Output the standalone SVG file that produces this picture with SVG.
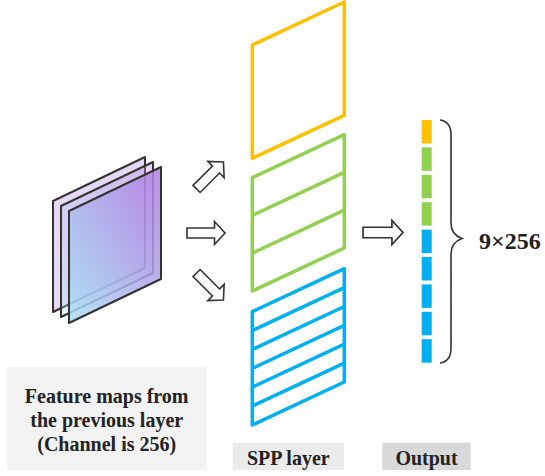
<svg xmlns="http://www.w3.org/2000/svg" width="545" height="476" viewBox="0 0 545 476">
<defs>
<linearGradient id="fmGrad" x1="0" y1="1" x2="1" y2="0">
<stop offset="0" stop-color="#a8e0f4"/>
<stop offset="1" stop-color="#b37ce0"/>
</linearGradient>
<path id="arrow" d="M-19,-5 L8.5,-5 L8.5,-11.5 L19,0 L8.5,11.5 L8.5,5 L-19,5 Z"/>
</defs>
<style>
.fm{stroke:#333;stroke-width:2;stroke-linejoin:round}
.arr{fill:#fff;stroke:#333;stroke-width:1.6;stroke-linejoin:miter}
.spp{fill:none;stroke-width:3.5;stroke-linejoin:round;stroke-linecap:round}
.lbl{font-family:"Liberation Serif","Times New Roman",serif;font-weight:bold;font-size:20px;fill:#222;text-anchor:middle}
</style>

<g id="feature-maps">
<path class="fm" d="M53,201 L145,157 L145,268 L53,312 Z" fill="#e2d2f4" fill-opacity="0.85"/>
<path class="fm" d="M61,206 L153,162 L153,273 L61,317 Z" fill="url(#fmGrad)" fill-opacity="0.35"/>
<path class="fm" d="M69,211 L161,167 L161,279 L69,323 Z" fill="url(#fmGrad)" fill-opacity="0.85"/>
</g>

<g id="connectors">
<use href="#arrow" class="arr" transform="translate(210,175.5) rotate(-45)"/>
<use href="#arrow" class="arr" transform="translate(206,233)"/>
<use href="#arrow" class="arr" transform="translate(210,286.5) rotate(45)"/>
<use href="#arrow" class="arr" transform="translate(383,232.5) scale(1.05,1.05)"/>
</g>

<g id="spp-yellow">
<path class="spp" stroke="#FFC000" d="M252.3,45 L344.3,2 L344.3,115.3 L252.3,158.3 Z"/>
</g>
<g id="spp-green">
<path class="spp" stroke="#92D050" d="M252.3,177.7 L344.3,134.7 L344.3,248 L252.3,291 Z M252.3,215.4 L344.3,172.4 M252.3,253.2 L344.3,210.2"/>
</g>
<g id="spp-blue">
<path class="spp" stroke="#00B0F0" d="M252.3,311.7 L344.3,268.7 L344.3,382 L252.3,425 Z M252.3,330.6 L344.3,287.6 M252.3,349.5 L344.3,306.5 M252.3,368.4 L344.3,325.4 M252.3,387.2 L344.3,344.2 M252.3,406.1 L344.3,363.1"/>
</g>

<g id="output">
<rect x="421.7" y="120" width="10" height="23.5" fill="#FFC000"/>
<rect x="421.7" y="147.4" width="10" height="23.5" fill="#92D050"/>
<rect x="421.7" y="174.8" width="10" height="23.5" fill="#92D050"/>
<rect x="421.7" y="202.2" width="10" height="23.5" fill="#92D050"/>
<rect x="421.7" y="229.6" width="10" height="23.5" fill="#00B0F0"/>
<rect x="421.7" y="257" width="10" height="23.5" fill="#00B0F0"/>
<rect x="421.7" y="284.4" width="10" height="23.5" fill="#00B0F0"/>
<rect x="421.7" y="311.8" width="10" height="23.5" fill="#00B0F0"/>
<rect x="421.7" y="339.2" width="10" height="23.5" fill="#00B0F0"/>
</g>

<g id="brace">
<path d="M440,120 C447,121 451,126 451,135 L451,223 C451,231 455,236 462,238.5 C455,241 451,246 451,254 L451,348 C451,357 447,362 440,363" fill="none" stroke="#333" stroke-width="1.6"/>
<text x="479" y="249" style="font-family:'Liberation Serif','Times New Roman',serif;font-weight:bold;font-size:24px;fill:#222">9×256</text>
</g>

<g id="label-feature">
<rect x="6.7" y="367.3" width="200" height="102.7" fill="#f2f2f2"/>
<text class="lbl" x="106.7" y="403.3">Feature maps from</text>
<text class="lbl" x="106.7" y="427">the previous layer</text>
<text class="lbl" x="106.7" y="451">(Channel is 256)</text>
</g>
<g id="label-spp">
<rect x="232.7" y="442.7" width="111.3" height="27.3" fill="#ebebeb"/>
<text class="lbl" x="288.3" y="465">SPP layer</text>
</g>
<g id="label-output">
<rect x="382.3" y="442.7" width="88.4" height="27.3" fill="#d9d9d9"/>
<text class="lbl" x="426.5" y="465">Output</text>
</g>
</svg>
